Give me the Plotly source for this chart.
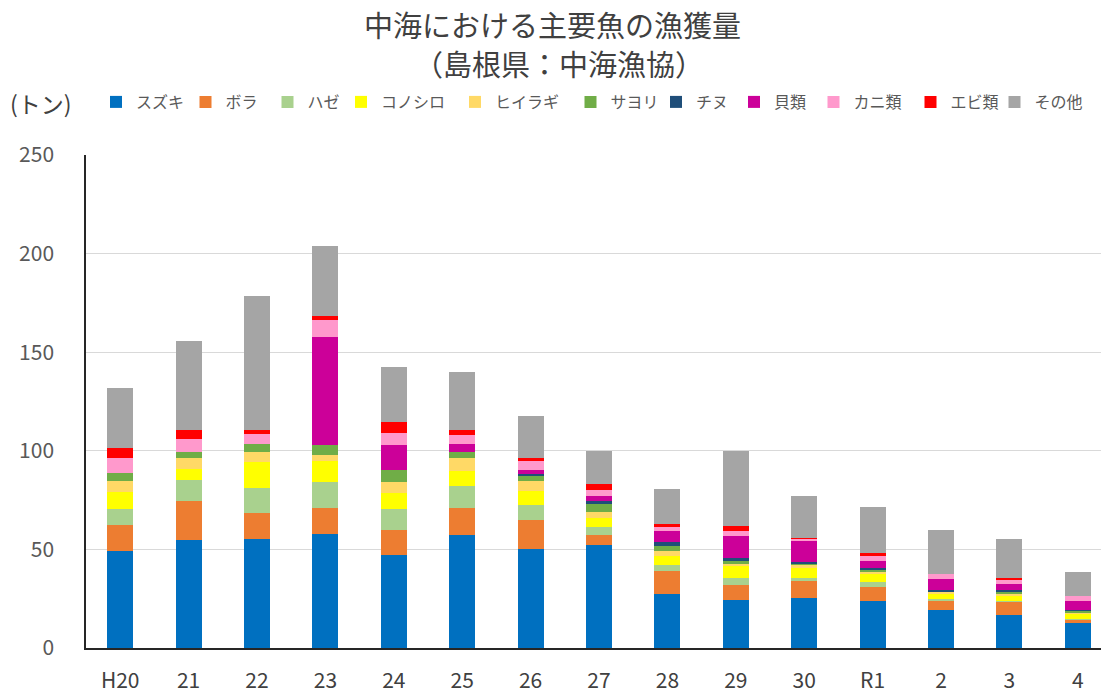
import plotly.graph_objects as go

categories = ["H20", "21", "22", "23", "24", "25", "26", "27", "28", "29", "30", "R1", "2", "3", "4"]

suzuki   = [49.0, 54.8, 55.3, 57.9, 47.0, 57.5, 50.4, 52.3, 27.3, 24.4, 25.3, 23.9, 19.3, 16.5, 12.6]
bora     = [13.3, 19.7, 13.4, 12.9, 12.7, 13.3, 14.3, 5.1, 11.6, 7.5, 8.5, 7.0, 4.8, 6.9, 1.7]
haze     = [8.3, 10.7, 12.4, 13.6, 10.9, 11.5, 7.8, 4.1, 3.4, 3.6, 1.7, 2.6, 0.7, 0.4, 0.6]
konoshiro = [8.7, 5.8, 13.2, 10.3, 7.8, 7.5, 7.1, 4.5, 4.5, 5.9, 5.1, 4.0, 2.5, 3.0, 2.4]
hiiragi  = [5.4, 5.6, 5.1, 3.4, 5.8, 6.3, 5.1, 3.1, 2.2, 1.7, 1.3, 1.4, 1.1, 1.0, 0.9]
sayori   = [3.9, 2.8, 4.1, 4.9, 6.1, 3.3, 2.9, 3.7, 2.6, 0.8, 1.2, 0.8, 0.5, 0.9, 0.6]
chinu    = [0, 0, 0, 0, 0, 0, 0.5, 1.7, 2.0, 1.8, 0.3, 1.0, 0.6, 0.8, 0.7]
kairui   = [0, 0, 0, 54.8, 12.7, 4.3, 2.2, 2.5, 5.6, 11.0, 11.1, 3.4, 5.5, 2.9, 4.3]
kanirui  = [8.0, 6.5, 5.0, 8.3, 6.0, 4.2, 4.6, 3.1, 2.6, 2.5, 0.8, 2.7, 2.3, 2.2, 2.5]
ebirui   = [4.6, 4.6, 2.0, 2.1, 5.7, 2.7, 1.3, 2.9, 1.0, 2.9, 0.6, 1.2, 0, 1.0, 0]
sonota   = [30.8, 45.4, 68.1, 35.6, 27.7, 29.4, 21.6, 17.0, 17.8, 37.9, 21.3, 23.4, 22.4, 19.7, 12.2]

series_names = ["スズキ", "ボラ", "ハゼ", "コノシロ", "ヒイラギ", "サヨリ", "チヌ", "貝類", "カニ類", "エビ類", "その他"]
series_values = [suzuki, bora, haze, konoshiro, hiiragi, sayori, chinu, kairui, kanirui, ebirui, sonota]
series_colors = ["#0070C0", "#ED7D31", "#A9D18E", "#FFFF00", "#FFD966", "#70AD47",
                 "#1F4E79", "#CC0099", "#FF99CC", "#FF0000", "#A5A5A5"]

y_ticks = [0, 50, 100, 150, 200, 250]

title_line1 = "中海における主要魚の漁獲量"
title_line2 = "（島根県：中海漁協）"
unit_label = "(トン)"

# left pixel of each one-item legend
legend_px = [88, 177.5, 259.5, 333, 447, 562.5, 648, 726, 805.5, 902.5, 986.5]

FONT = "Noto Sans CJK JP"
W, H = 1109, 693

fig = go.Figure()
layout_legends = {}
for i, (name, vals, col) in enumerate(zip(series_names, series_values, series_colors)):
    lname = "legend" if i == 0 else f"legend{i + 1}"
    fig.add_trace(go.Bar(x=categories, y=vals, name=name, marker_color=col,
                         marker_line_width=0, legend=lname))
    layout_legends[lname] = dict(
        orientation="h", xref="container", yref="container",
        x=legend_px[i] / W, xanchor="left", y=1 - 94 / H, yanchor="middle",
        font=dict(size=16, color="#595959", family=FONT),
        itemwidth=30, bgcolor="rgba(0,0,0,0)")

PL, PT, PB, PR = 78, 147, 53, 5
plot_w = W - PL - PR
plot_h = H - PT - PB


def px_to_paper_x(px):
    return (px - PL) / plot_w


def px_to_paper_y(py):
    return (PT + plot_h - py) / plot_h


fig.update_layout(
    barmode="stack",
    bargap=0.62,
    width=W, height=H,
    paper_bgcolor="white", plot_bgcolor="white",
    margin=dict(l=PL, r=PR, t=PT, b=PB, autoexpand=False),
    font=dict(family=FONT, color="#595959"),
    title=dict(text=title_line1,
               xref="container", yref="container",
               x=544.5 / W, xanchor="center", y=1 - 19 / H, yanchor="middle",
               font=dict(size=29, color="#404040", family=FONT)),
    showlegend=True,
    xaxis=dict(showline=True, linecolor="#262626", linewidth=1.5,
               tickfont=dict(size=21, color="#404040", family=FONT),
               ticks="", ticklabelstandoff=13, automargin=False),
    yaxis=dict(range=[0, 250], tickvals=y_ticks, showgrid=True, gridcolor="#D9D9D9",
               gridwidth=1.2, showline=True, linecolor="#262626", linewidth=1.5,
               tickfont=dict(size=21, color="#595959", family=FONT),
               ticks="", ticklabelstandoff=26, zeroline=False, automargin=False),
    annotations=[
        dict(text=title_line2, xref="paper", yref="paper", showarrow=False,
             x=px_to_paper_x(551), y=px_to_paper_y(55), xanchor="center", yanchor="middle",
             font=dict(size=29, color="#404040", family=FONT)),
        dict(text=unit_label, xref="paper", yref="paper", showarrow=False,
             x=px_to_paper_x(0), y=px_to_paper_y(95), xanchor="left",
             yanchor="middle", font=dict(size=23, color="#404040", family=FONT)),
    ],
    **layout_legends,
)
fig.write_html("out.html")
